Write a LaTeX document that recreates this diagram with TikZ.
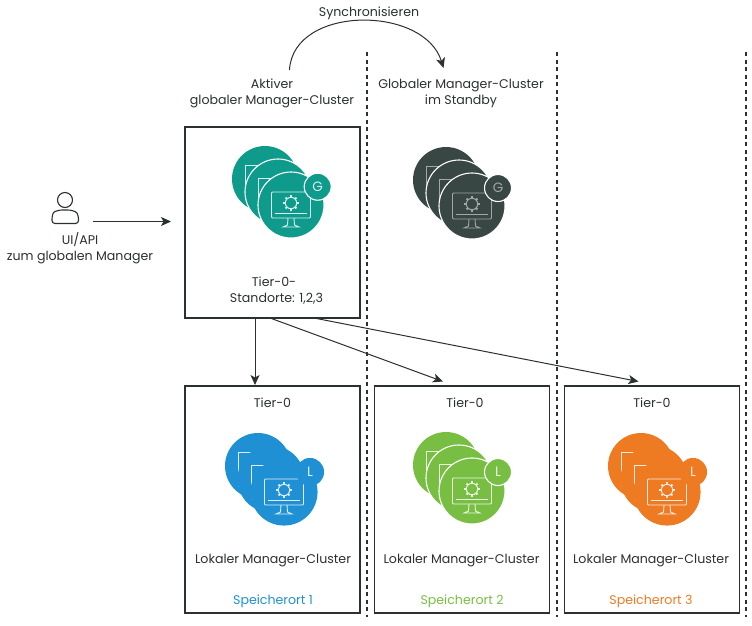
\documentclass[tikz,border=0pt]{standalone}
\usepackage{fontspec}
\setmainfont{Poppins}
\usetikzlibrary{arrows.meta,calc}
\definecolor{inkline}{HTML}{2B3030}
\definecolor{tealc}{HTML}{0E9B8C}
\definecolor{darkc}{HTML}{384644}
\definecolor{darkl}{HTML}{A3A8A6}
\definecolor{bluec}{HTML}{2090D5}
\definecolor{greenc}{HTML}{78BE43}
\definecolor{orangec}{HTML}{EE7B22}
\tikzset{
  panel/.style={draw=inkline,line width=1.1pt,fill=none,minimum width=175pt,inner sep=0pt,outer sep=0pt},
  conn/.style={draw=inkline,line width=1pt,-{Stealth[length=10pt,width=9pt,inset=2.5pt]}},
  sep/.style={draw=inkline,line width=1.05pt,dash pattern=on 4pt off 3.5pt},
  lbl/.style={font=\fontsize{12.6}{16}\selectfont,text=inkline,inner sep=0pt,align=center},
  place/.style={font=\fontsize{12.6}{16}\selectfont,inner sep=0pt}
}
% One manager cluster: three overlapping discs, monitor glyph and a lettered badge.
% name, x, y, disc colour, glyph colour, rim colour, badge letter, badge dx, badge dy
\newcommand{\clustericon}[9]{%
  \begin{scope}[shift={(#2,#3)}]
    \def\disc{#4}\def\glyph{#5}\def\rim{#6}
    \fill[\disc] (-26,-26) circle (33pt);
    \draw[\glyph,line width=0.9pt] (-32,-40) -- (-45.5,-40) -- (-45.5,-5);
    \draw[\rim,fill=\disc,line width=1.1pt] (-13,-13) circle (33pt);
    \draw[\glyph,line width=0.9pt] (-19,-27) -- (-32.5,-27) -- (-32.5,8);
    \draw[\rim,fill=\disc,line width=1.1pt] (0,0) circle (33pt);
    \draw[\glyph,line width=0.9pt,rounded corners=1pt] (-19.5,-13) rectangle (19.5,13);
    \draw[\glyph,line width=0.9pt] (-16,8) -- (16,8);
    \draw[\glyph,line width=0.9pt] (-3,13) -- (-3.5,20) -- (-8,22) -- (8,22) -- (3.5,20) -- (3,13);
    \draw[\glyph,line width=1pt] (0,-2) circle (5.7pt);
    \foreach \a in {0,45,...,315}{\draw[\glyph,line width=2pt] (0,-2) ++(\a:5.7pt) -- ++(\a:2pt);}
    \draw[\rim,fill=\disc,line width=1.1pt] (#8,#9) circle (13.5pt);
    \node[name=#1,font=\fontsize{13.5}{13.5}\selectfont,text=\glyph,inner sep=0pt] at (#8,#9) {#7};
  \end{scope}}
\begin{document}
\begin{tikzpicture}[x=1pt,y=-1pt]
\useasboundingbox (0,0) rectangle (752,625);

% vertical separators between the sites
\coordinate (s1a) at (367,52); \coordinate (s1b) at (367,617);
\coordinate (s2a) at (557,52); \coordinate (s2b) at (557,617);
\coordinate (s3a) at (746,52); \coordinate (s3b) at (746,617);
\draw[sep] (s1a) -- (s1b);
\draw[sep] (s2a) -- (s2b);
\draw[sep] (s3a) -- (s3b);

% panels
\node[panel,minimum height=191pt] (gm) at (272.5,222.5) {};
\node[panel,minimum height=227pt] (lm1) at (272.5,499.5) {};
\node[panel,minimum height=227pt] (lm2) at (462,499.5) {};
\node[panel,minimum height=227pt] (lm3) at (652,499.5) {};

% cluster icons
\clustericon{bgm}{291}{205}{tealc}{white!85!tealc}{white}{G}{26.7}{-18.3}
\clustericon{bsb}{472}{206}{darkc}{darkl}{white}{G}{26}{-18}
\clustericon{bl1}{284}{492}{bluec}{white!85!bluec}{bluec}{L}{26}{-20}
\clustericon{bl2}{472}{491}{greenc}{white!85!greenc}{white}{L}{26}{-19}
\clustericon{bl3}{667}{492}{orangec}{white!85!orangec}{orangec}{L}{26}{-20}

% user glyph
\draw[inkline,line width=1.1pt] (65,200) circle (7.5pt);
\draw[inkline,line width=1.1pt,rounded corners=3pt] (52,223.5) -- (52,216) .. controls (54,211) and (60,210) .. (65,210) .. controls (70,210) and (76,211) .. (78.5,216) -- (78.5,223.5) -- cycle;

% labels
\node[lbl] (usr) at (80,248) {UI/API\\zum globalen Manager};
\node[lbl] (sync) at (369,13) {Synchronisieren};
\node[lbl] (act) at (272,93.5) {Aktiver\\globaler Manager-Cluster};
\node[lbl] (stb) at (461,93.5) {Globaler Manager-Cluster\\im Standby};
\node[lbl] (t0g) at (274,290.5) {Tier-0-\\\hspace*{5pt}Standorte: 1,2,3};
\node[lbl] (t1) at (272.5,403) {Tier-0};
\node[lbl] (t2) at (465,403) {Tier-0};
\node[lbl] (t3) at (652,403) {Tier-0};
\node[lbl] (c1) at (273,561) {Lokaler Manager-Cluster};
\node[lbl] (c2) at (461.5,561) {Lokaler Manager-Cluster};
\node[lbl] (c3) at (651,561) {Lokaler Manager-Cluster};
\node[place,text=bluec] (p1) at (273,601) {Speicherort 1};
\node[place,text=greenc] (p2) at (462,601) {Speicherort 2};
\node[place,text=orangec] (p3) at (651,601) {Speicherort 3};

% connectors
\coordinate (uiout) at (93,221.5);
\coordinate (uiin) at (171,221.5);
\draw[conn] (uiout) -- (uiin);
\coordinate (syncfrom) at (289.5,70);
\coordinate (syncto) at (443.5,68);
\draw[conn] (syncfrom) .. controls (293,5) and (424,5) .. (syncto);
\coordinate (o1) at (255,318);
\coordinate (o2) at (270,318);
\coordinate (o3) at (314,318);
\coordinate (i1) at (255,385);
\coordinate (i2) at (443,381.5);
\coordinate (i3) at (638.5,381.5);
\draw[conn] (o1) -- (i1);
\draw[conn] (o2) -- (i2);
\draw[conn] (o3) -- (i3);
\end{tikzpicture}
\end{document}
